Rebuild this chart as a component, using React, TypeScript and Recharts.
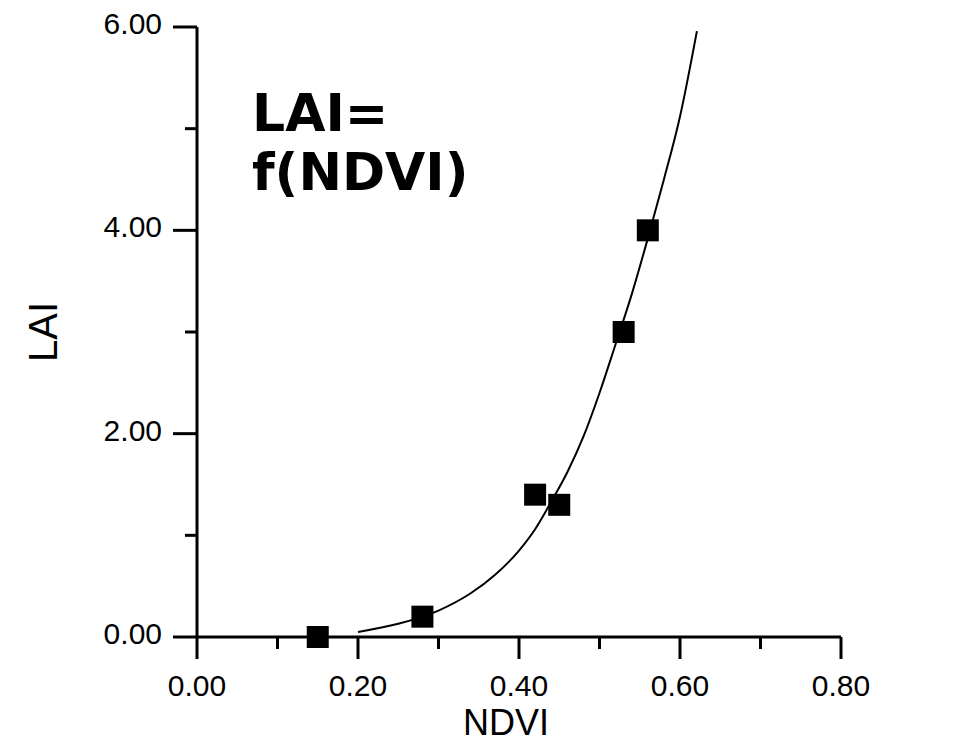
import React from 'react';
import { ComposedChart, Scatter, Line, XAxis, YAxis } from 'recharts';

// ---------------------------------------------------------------------------
// Data
// ---------------------------------------------------------------------------

const ndviPoints = [0.15, 0.28, 0.42, 0.45, 0.53, 0.56];
const laiPoints = [0.0, 0.2, 1.4, 1.3, 3.0, 4.0];

const fitNdvi = [0.2, 0.25, 0.3, 0.34, 0.37, 0.4, 0.42, 0.44, 0.46, 0.48, 0.5, 0.52, 0.54, 0.56, 0.58, 0.6, 0.621];
const fitLai = [0.05, 0.13, 0.26, 0.43, 0.61, 0.85, 1.06, 1.33, 1.62, 1.97, 2.4, 2.88, 3.37, 3.92, 4.5, 5.12, 5.96];

const xTicks = [0, 0.1, 0.2, 0.3, 0.4, 0.5, 0.6, 0.7, 0.8];
const yTicks = [0, 1, 2, 3, 4, 5, 6];

const points = ndviPoints.map((x, i) => ({ x, y: laiPoints[i] }));
const fitCurve = fitNdvi.map((x, i) => ({ x, y: fitLai[i] }));

const FONT = '"Liberation Sans", Arial, sans-serif';

// ---------------------------------------------------------------------------
// Ticks (major ticks long + labelled, minor ticks short)
// ---------------------------------------------------------------------------

const XTick = (props: any) => {
  const { x, y, payload } = props;
  const major = Math.round(payload.value * 10) % 2 === 0;
  return (
    <g>
      <line x1={x} y1={y} x2={x} y2={y + (major ? 22 : 12)} stroke="#000" strokeWidth={3} />
      {major && (
        <text x={x} y={y + 59} textAnchor="middle" fontSize={30} fontFamily={FONT} fill="#000">
          {payload.value.toFixed(2)}
        </text>
      )}
    </g>
  );
};

const YTick = (props: any) => {
  const { x, y, payload } = props;
  const major = payload.value % 2 === 0;
  return (
    <g>
      <line x1={x - (major ? 24 : 12)} y1={y} x2={x} y2={y} stroke="#000" strokeWidth={3} />
      {major && (
        <text x={x - 35} y={y + 7} textAnchor="end" fontSize={30} fontFamily={FONT} fill="#000">
          {payload.value.toFixed(2)}
        </text>
      )}
    </g>
  );
};

const SquareDot = (props: any) => {
  const { cx, cy } = props;
  return <rect x={cx - 11} y={cy - 11} width={22} height={22} fill="#000" />;
};

// ---------------------------------------------------------------------------
// Component
// ---------------------------------------------------------------------------

const App: React.FC = () => {
  return (
    <div style={{ position: 'relative', width: 953, height: 736, background: '#fff' }}>
      <ComposedChart width={953} height={736} margin={{ top: 19, right: 120, bottom: 47, left: 0 }}>
        <XAxis
          dataKey="x"
          type="number"
          domain={[0, 0.8]}
          ticks={xTicks}
          interval={0}
          height={60}
          tickSize={0}
          tickMargin={0}
          tickLine={false}
          axisLine={{ stroke: '#000', strokeWidth: 3 }}
          tick={<XTick />}
          label={{
            content: ({ viewBox }: any) => (
              <text
                x={viewBox.x + viewBox.width / 2 - 13}
                y={viewBox.y + 98}
                textAnchor="middle"
                fontSize={36}
                fontFamily={FONT}
                fill="#000"
              >
                NDVI
              </text>
            ),
          }}
        />
        <YAxis
          dataKey="y"
          type="number"
          domain={[0, 6]}
          ticks={yTicks}
          interval={0}
          width={189}
          tickSize={0}
          tickMargin={0}
          tickLine={false}
          axisLine={{ stroke: '#000', strokeWidth: 3 }}
          tick={<YTick />}
          label={{
            content: ({ viewBox }: any) => {
              const cy = viewBox.y + viewBox.height / 2;
              return (
                <text
                  x={35}
                  y={cy}
                  transform={`rotate(-90 35 ${cy})`}
                  textAnchor="middle"
                  dominantBaseline="central"
                  fontSize={40}
                  fontFamily={FONT}
                  fill="#000"
                >
                  LAI
                </text>
              );
            },
          }}
        />
        <Line
          data={fitCurve}
          dataKey="y"
          type="monotone"
          stroke="#000"
          strokeWidth={2}
          dot={false}
          activeDot={false}
          isAnimationActive={false}
        />
        <Scatter data={points} dataKey="y" fill="#000" shape={<SquareDot />} isAnimationActive={false} />
      </ComposedChart>
      <svg
        width={953}
        height={736}
        style={{ position: 'absolute', left: 0, top: 0, pointerEvents: 'none' }}
      >
        <text x={244} y={123} fontSize={52} fontWeight="bold" fontFamily='"DejaVu Sans", Verdana, sans-serif' fill="#000">
          LAI=
        </text>
        <text x={244} y={182} fontSize={52} fontWeight="bold" fontFamily='"DejaVu Sans", Verdana, sans-serif' fill="#000">
          f(NDVI)
        </text>
      </svg>
    </div>
  );
};

export default App;
